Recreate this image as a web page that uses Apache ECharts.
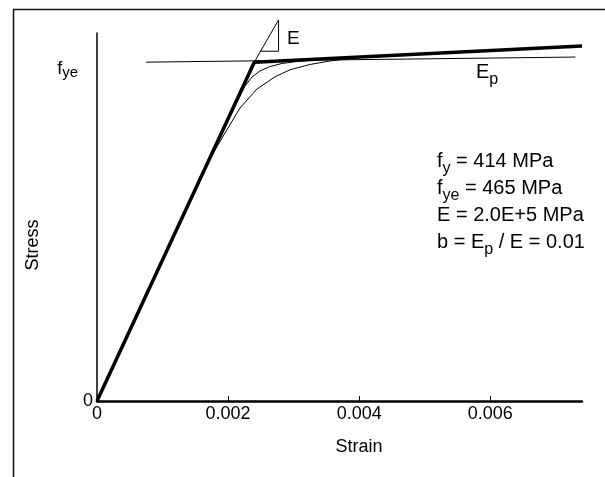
<!DOCTYPE html>
<html>
<head>
<meta charset="utf-8">
<script src="https://cdn.jsdelivr.net/npm/echarts@6/dist/echarts.min.js"></script>
<style>
  html, body { margin: 0; padding: 0; background: #fff; }
  #chart { width: 605px; height: 477px; }
</style>
</head>
<body>
<div id="chart"></div>
<script>
// Steel stress-strain model: bilinear envelope with two smooth transition curves
const fye = 465;                       // effective yield stress (MPa)
const xTicks = [0, 0.002, 0.004, 0.006];

// bilinear envelope: elastic branch, then hardening branch (strain, stress)
const bilinear = [[0, 0], [0.0024, 465], [0.0074, 487]];

// horizontal reference line at f_ye
const fyeLine = [[0.00075, 465], [0.0073, 472]];

// transition curve with a sharp knee
const curveSharp = [
  [0, 0], [0.002106, 404.7], [0.002258, 432.3], [0.002365, 444.6],
  [0.002487, 452.9], [0.002640, 459.0], [0.002823, 463.2],
  [0.003052, 465.9], [0.003326, 467.9], [0.003631, 470.4]
];

// transition curve with a soft knee
const curveSoft = [
  [0, 0], [0.001648, 317.0], [0.001800, 344.4], [0.001953, 367.8],
  [0.002182, 402.1], [0.002441, 428.2], [0.002716, 444.9],
  [0.002945, 454.5], [0.003250, 461.8], [0.003555, 466.6],
  [0.003860, 470.0], [0.004165, 472.8], [0.004623, 474.9]
];

// slope triangle marking the elastic modulus E
const slopeHyp = [[0.0024, 465], [0.00277, 523]];
const slopeLegs = [[0.00249, 480], [0.00277, 480], [0.00277, 523]];

// material parameters printed on the chart
const paramLines = [
  '{b|f}{s|y}{b| = 414 MPa}',
  '{b|f}{s|ye}{b| = 465 MPa}',
  '{b|E = 2.0E+5 MPa}',
  '{b|b = E}{s|p}{b| / E = 0.01}'
];

const FONT = '"Liberation Sans", Arial, sans-serif';
const chart = echarts.init(document.getElementById('chart'), null, { renderer: 'canvas' });

// rich-text styles: base text and a lowered subscript; `lift` pads both from the top
function subRich(base, sub, lh, drop, lift, gap) {
  lift = lift || 0;
  return {
    b: { fontFamily: FONT, fontSize: base, color: '#000', fill: '#000', verticalAlign: 'top',
         lineHeight: lh, padding: [lift, 0, 0, 0] },
    s: { fontFamily: FONT, fontSize: sub, color: '#000', fill: '#000', verticalAlign: 'top',
         lineHeight: lh - drop, padding: [drop + lift, 0, 0, 0] },
    gap: { width: gap || 0 }
  };
}

function thin(name, data, width) {
  return {
    name, type: 'line', data, symbol: 'none', clip: false, smooth: false,
    lineStyle: { color: '#000', width: width || 1 }, silent: true, z: 3
  };
}

chart.setOption({
  animation: false,
  backgroundColor: '#fff',
  grid: { left: 97, right: 23, top: 33, bottom: 76 },
  xAxis: {
    type: 'value', min: 0, max: 0.0074, interval: 0.002,
    axisLine: { lineStyle: { color: '#000', width: 2.5 } },
    axisTick: { show: true, inside: true, length: 5, lineStyle: { color: '#000', width: 1 } },
    axisLabel: {
      fontFamily: FONT, fontSize: 18, color: '#000', margin: 4,
      showMaxLabel: false,
      formatter: v => (v === 0 ? '0' : v.toFixed(3))
    },
    splitLine: { show: false }
  },
  yAxis: {
    type: 'value', min: 0, max: 505, interval: fye,
    axisLine: { show: true, lineStyle: { color: '#000', width: 1.5 } },
    axisTick: { show: false },
    axisLabel: {
      fontFamily: FONT, fontSize: 18, color: '#000',
      showMaxLabel: false,
      margin: 4,
      formatter: v => (v === 0 ? '0' : '{b|f}{s|ye}{gap|}'),
      rich: subRich(18, 15, 22, 5, 9, 15)
    },
    splitLine: { show: false }
  },
  series: [
    thin('fye', fyeLine, 1),
    thin('sharp', curveSharp, 1),
    thin('soft', curveSoft, 1),
    thin('slope', slopeHyp, 1),
    thin('slopeLegs', slopeLegs, 1),
    {
      name: 'bilinear', type: 'line', data: bilinear, symbol: 'none', clip: false,
      lineStyle: { color: '#000', width: 3.5 }, silent: true, z: 4
    }
  ],
  graphic: [
    {
      type: 'polyline', silent: true,
      shape: { points: [[13.5, 477], [13.5, 9.5], [605, 9.5]] },
      style: { stroke: '#111', lineWidth: 1.5, fill: null }
    },
    {
      type: 'text', x: 359, y: 447, silent: true,
      style: { text: 'Strain', fontFamily: FONT, fontSize: 18, fill: '#000', align: 'center', verticalAlign: 'middle' }
    },
    {
      type: 'text', x: 33, y: 245, rotation: Math.PI / 2, silent: true,
      style: { text: 'Stress', fontFamily: FONT, fontSize: 18, fill: '#000', align: 'center', verticalAlign: 'middle' }
    },
    {
      type: 'text', x: 287, y: 29, silent: true,
      style: { text: 'E', fontFamily: FONT, fontSize: 19, fill: '#000' }
    },
    {
      type: 'text', x: 476, y: 62, silent: true,
      style: { text: '{b|E}{s|p}', fill: '#000', rich: subRich(20, 16, 24, 10) }
    },
    {
      type: 'text', x: 437, y: 151, silent: true,
      style: { text: paramLines.join('\n'), fill: '#000', rich: subRich(20, 16, 27, 10) }
    }
  ]
});
</script>
</body>
</html>
